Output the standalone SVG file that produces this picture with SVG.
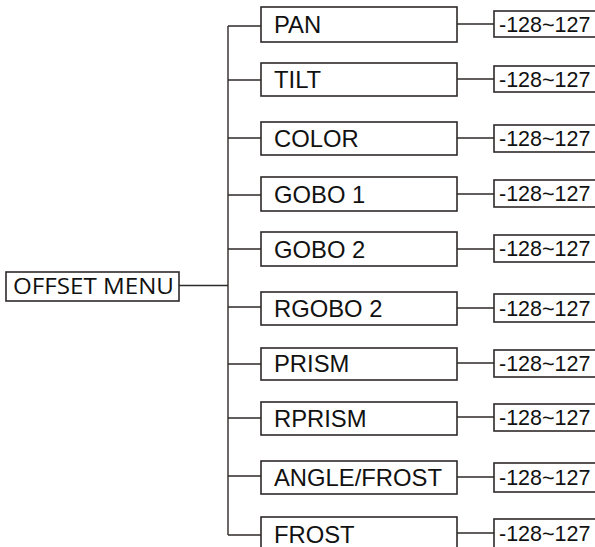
<svg xmlns="http://www.w3.org/2000/svg" width="595" height="547" viewBox="0 0 595 547">
<style>
.box{fill:#fff;stroke:#2e2a28;stroke-width:1.6}
.ln{stroke:#2e2a28;stroke-width:1.4;fill:none}
.t{font-family:"Liberation Sans",Arial,sans-serif;font-size:23.8px;fill:#111}
.v{font-family:"Liberation Sans",Arial,sans-serif;font-size:21.5px;fill:#111}
.m{font-family:"Open Sans","Noto Sans",sans-serif;font-size:21px;fill:#111}
</style>
<rect width="595" height="547" fill="#fff"/>
<g id="connectors" class="ln">
<path d="M179 285.5H228M228 26V535"/>
<path d="M228 26H261M228 80H261M228 138H261M228 195H261M228 249H261M228 307H261M228 364H261M228 418H261M228 476H261M228 535H261"/>
<path d="M457 24H494M457 79H494M457 138H494M457 194H494M457 249H494M457 308H494M457 363H494M457 417H494M457 477H494M457 533H494"/>
</g>
<g id="offset-menu"><rect class="box" x="6" y="272" width="173" height="29"/><text class="m" x="13" y="294" textLength="161" lengthAdjust="spacingAndGlyphs">OFFSET MENU</text></g>
<g id="pan"><rect class="box" x="261" y="7" width="196" height="35"/><text class="t" x="274" y="33">PAN</text></g>
<g id="pan-range"><rect class="box" x="494" y="11" width="103" height="26"/><text class="v" x="499" y="32">-128~127</text></g>
<g id="tilt"><rect class="box" x="261" y="63" width="196" height="33"/><text class="t" x="274" y="88">TILT</text></g>
<g id="tilt-range"><rect class="box" x="494" y="66" width="103" height="26"/><text class="v" x="499" y="87">-128~127</text></g>
<g id="color"><rect class="box" x="261" y="122" width="196" height="33"/><text class="t" x="274" y="147">COLOR</text></g>
<g id="color-range"><rect class="box" x="494" y="125" width="103" height="27"/><text class="v" x="499" y="146">-128~127</text></g>
<g id="gobo1"><rect class="box" x="261" y="177" width="196" height="34"/><text class="t" x="274" y="203">GOBO 1</text></g>
<g id="gobo1-range"><rect class="box" x="494" y="180" width="103" height="27"/><text class="v" x="499" y="201">-128~127</text></g>
<g id="gobo2"><rect class="box" x="261" y="232" width="196" height="34"/><text class="t" x="274" y="258">GOBO 2</text></g>
<g id="gobo2-range"><rect class="box" x="494" y="235" width="103" height="27"/><text class="v" x="499" y="256">-128~127</text></g>
<g id="rgobo2"><rect class="box" x="261" y="292" width="196" height="33"/><text class="t" x="274" y="317">RGOBO 2</text></g>
<g id="rgobo2-range"><rect class="box" x="494" y="294" width="103" height="28"/><text class="v" x="499" y="316">-128~127</text></g>
<g id="prism"><rect class="box" x="261" y="348" width="196" height="32"/><text class="t" x="274" y="372">PRISM</text></g>
<g id="prism-range"><rect class="box" x="494" y="350" width="103" height="27"/><text class="v" x="499" y="371">-128~127</text></g>
<g id="rprism"><rect class="box" x="261" y="402" width="196" height="33"/><text class="t" x="274" y="427">RPRISM</text></g>
<g id="rprism-range"><rect class="box" x="494" y="404" width="103" height="27"/><text class="v" x="499" y="425">-128~127</text></g>
<g id="angle-frost"><rect class="box" x="261" y="461" width="196" height="33"/><text class="t" x="274" y="486">ANGLE/FROST</text></g>
<g id="angle-frost-range"><rect class="box" x="494" y="463" width="103" height="29"/><text class="v" x="499" y="485">-128~127</text></g>
<g id="frost"><rect class="box" x="261" y="517" width="196" height="40"/><text class="t" x="274" y="543">FROST</text></g>
<g id="frost-range"><rect class="box" x="494" y="519" width="103" height="34"/><text class="v" x="499" y="541">-128~127</text></g>
</svg>
